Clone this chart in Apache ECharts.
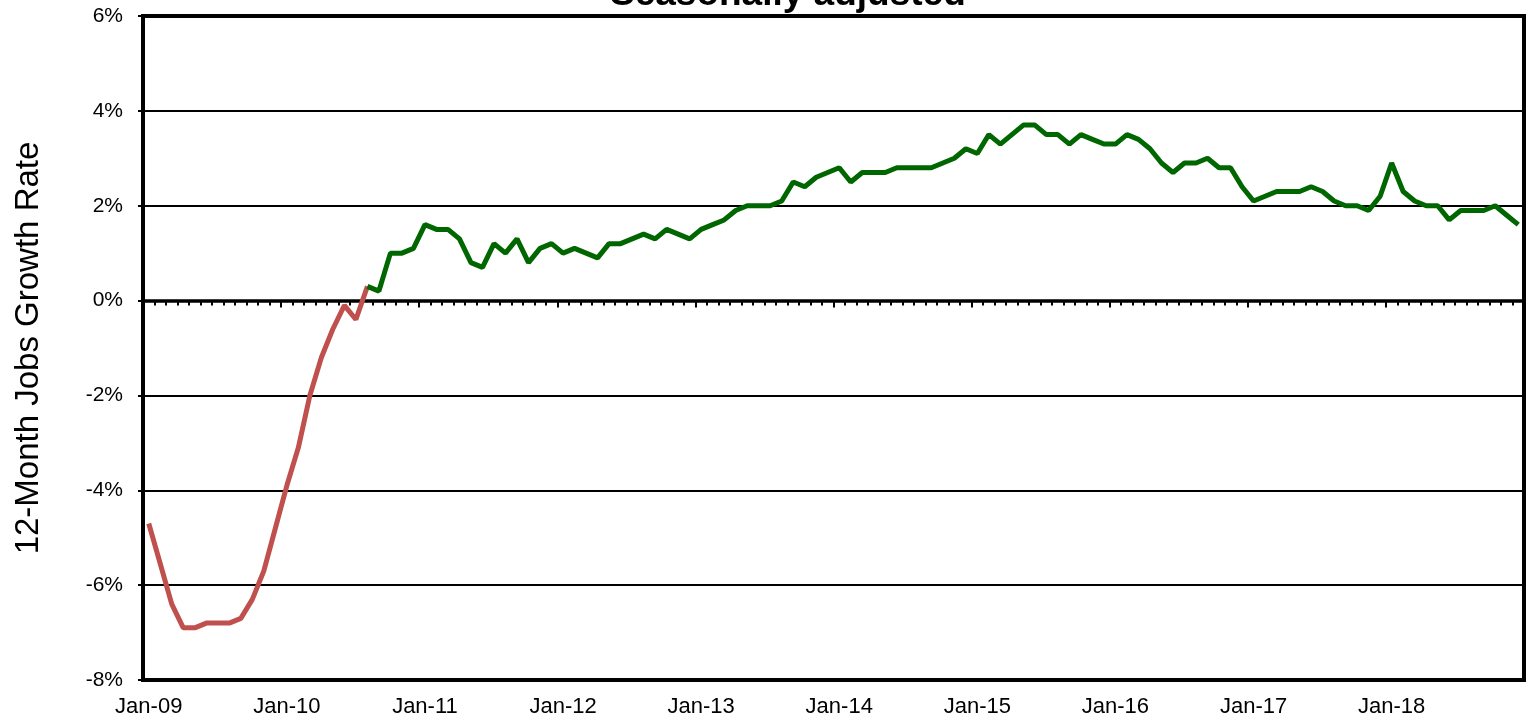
<!DOCTYPE html>
<html>
<head>
<meta charset="utf-8">
<script src="https://cdn.jsdelivr.net/npm/echarts@6/dist/echarts.min.js"></script>
<style>
html,body{margin:0;padding:0;background:#fff;}
#chart{width:1527px;height:719px;}
</style>
</head>
<body>
<div id="chart"></div>
<script>
// Month categories Jan-09 .. Dec-18
var monthNames = ['Jan','Feb','Mar','Apr','May','Jun','Jul','Aug','Sep','Oct','Nov','Dec'];
var years = ['09','10','11','12','13','14','15','16','17','18'];
var categories = [];
years.forEach(function (y) { monthNames.forEach(function (m) { categories.push(m + '-' + y); }); });

// 12-month jobs growth rate (%), Jan-09 .. Aug-10 (recession / recovery segment)
var redValues = [-4.7, -5.55, -6.4, -6.9, -6.9, -6.8, -6.8, -6.8, -6.7, -6.3,
                 -5.7, -4.8, -3.9, -3.1, -2.0, -1.2, -0.6, -0.1, -0.4, 0.3];
var redStart = 0;

// 12-month jobs growth rate (%), Aug-10 .. Dec-18
var greenValues = [0.3, 0.2, 1.0, 1.0, 1.1, 1.6, 1.5, 1.5, 1.3, 0.8,
                   0.7, 1.2, 1.0, 1.3, 0.8, 1.1, 1.2, 1.0, 1.1, 1.0,
                   0.9, 1.2, 1.2, 1.3, 1.4, 1.3, 1.5, 1.4, 1.3, 1.5,
                   1.6, 1.7, 1.9, 2.0, 2.0, 2.0, 2.1, 2.5, 2.4, 2.6,
                   2.7, 2.8, 2.5, 2.7, 2.7, 2.7, 2.8, 2.8, 2.8, 2.8,
                   2.9, 3.0, 3.2, 3.1, 3.5, 3.3, 3.5, 3.7, 3.7, 3.5,
                   3.5, 3.3, 3.5, 3.4, 3.3, 3.3, 3.5, 3.4, 3.2, 2.9,
                   2.7, 2.9, 2.9, 3.0, 2.8, 2.8, 2.4, 2.1, 2.2, 2.3,
                   2.3, 2.3, 2.4, 2.3, 2.1, 2.0, 2.0, 1.9, 2.2, 2.9,
                   2.3, 2.1, 2.0, 2.0, 1.7, 1.9, 1.9, 1.9, 2.0, 1.8,
                   1.6];
var greenStart = 19;

var yTicks = [-8, -6, -4, -2, 0, 2, 4, 6];

function place(values, start) {
  var out = categories.map(function () { return null; });
  values.forEach(function (v, i) { out[start + i] = v; });
  return out;
}

var FONT = 'Liberation Sans, Arial, sans-serif';
var chart = echarts.init(document.getElementById('chart'), null, {renderer: 'canvas'});
chart.setOption({
  animation: false,
  backgroundColor: '#fff',
  title: {
    text: 'Seasonally adjusted',
    left: 605,
    top: -29,
    textStyle: {fontFamily: FONT, fontSize: 37, fontWeight: 'bold', color: '#000'}
  },
  grid: {
    left: 143, right: 3, top: 16, bottom: 39,
    show: true, borderColor: '#000', borderWidth: 4, backgroundColor: '#fff'
  },
  xAxis: [
    {
      type: 'category', data: categories, position: 'bottom', boundaryGap: true,
      axisLine: {show: false, onZero: false}, axisTick: {show: false},
      axisLabel: {interval: 11, fontFamily: FONT, fontSize: 22, color: '#000', margin: 16},
      splitLine: {show: false}
    },
    {
      type: 'category', data: categories, position: 'bottom', boundaryGap: true,
      axisLine: {show: true, onZero: true, onZeroAxisIndex: 0, lineStyle: {color: '#000', width: 3.5}},
      axisTick: {show: true, interval: 0, length: 5, lineStyle: {color: '#000', width: 2}},
      axisLabel: {show: false}, splitLine: {show: false}
    },
    {
      type: 'category', data: categories, position: 'bottom', boundaryGap: true,
      axisLine: {show: false, onZero: true, onZeroAxisIndex: 0},
      axisTick: {show: true, interval: 11, length: 7, lineStyle: {color: '#000', width: 2}},
      axisLabel: {show: false}, splitLine: {show: false}
    }
  ],
  yAxis: {
    type: 'value', min: yTicks[0], max: yTicks[yTicks.length - 1], interval: 2,
    name: '12-Month Jobs Growth Rate', nameLocation: 'middle', nameGap: 98, nameRotate: 90,
    nameTextStyle: {fontFamily: FONT, fontSize: 33, color: '#000'},
    axisLine: {show: true, lineStyle: {color: '#000', width: 3}},
    axisTick: {show: true, length: 5, lineStyle: {color: '#000', width: 2}},
    axisLabel: {fontFamily: FONT, fontSize: 21, color: '#000', margin: 20,
      formatter: function (v) { return v + '%'; }},
    splitLine: {show: true, lineStyle: {color: '#000', width: 2}}
  },
  series: [
    {
      type: 'line', data: place(redValues, redStart), xAxisIndex: 0,
      symbol: 'none', connectNulls: false,
      lineStyle: {color: '#C0504D', width: 5}, itemStyle: {color: '#C0504D'}, z: 3
    },
    {
      type: 'line', data: place(greenValues, greenStart), xAxisIndex: 0,
      symbol: 'none', connectNulls: false,
      lineStyle: {color: '#006600', width: 5}, itemStyle: {color: '#006600'}, z: 4
    }
  ]
});
</script>
</body>
</html>
